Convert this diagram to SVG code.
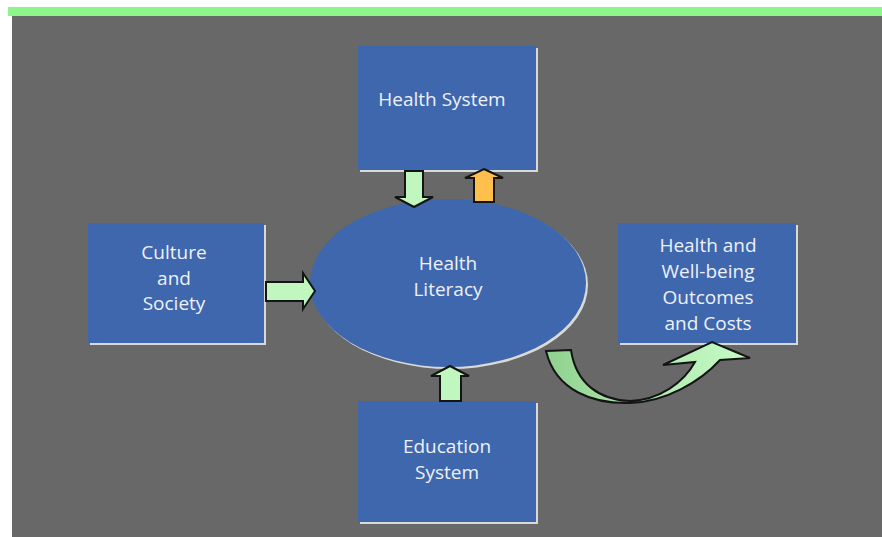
<svg xmlns="http://www.w3.org/2000/svg" width="882" height="537" viewBox="0 0 882 537">
  <style>
    .panel { fill: #686868; }
    .band { fill: #8ef58a; }
    .edge { fill: #d9d9d6; }
    .box { fill: #3e67ad; }
    .label { font-family: "Open Sans", "Noto Sans", "Liberation Sans", sans-serif; font-size: 19px; fill: #eef1f7; text-anchor: middle; }
    .arrow-green { fill: #bff7bf; stroke: #141414; stroke-width: 2; stroke-linejoin: miter; }
    .arrow-orange { fill: #ffbf4d; stroke: #141414; stroke-width: 2; stroke-linejoin: miter; }
  </style>
  <defs>
    <linearGradient id="curveFill" x1="546" y1="0" x2="750" y2="0" gradientUnits="userSpaceOnUse">
      <stop offset="0" stop-color="#8fd18f"/>
      <stop offset="0.55" stop-color="#b3edb3"/>
      <stop offset="1" stop-color="#c6fac6"/>
    </linearGradient>
  </defs>

  <!-- background -->
  <rect x="0" y="0" width="882" height="537" fill="#ffffff"/>
  <rect class="band" x="8" y="7" width="874" height="9"/>
  <rect class="panel" x="12" y="16" width="870" height="521"/>

  <!-- nodes -->
  <g id="health-system">
    <rect class="edge" x="360" y="48" width="178" height="124"/>
    <rect class="box" x="358" y="46" width="178" height="124"/>
    <text class="label" x="442" y="106">Health System</text>
  </g>

  <g id="culture-society">
    <rect class="edge" x="90" y="225" width="176" height="120"/>
    <rect class="box" x="88" y="223" width="176" height="120"/>
    <text class="label" x="174" y="259">Culture</text>
    <text class="label" x="174" y="285">and</text>
    <text class="label" x="174" y="310">Society</text>
  </g>

  <g id="health-literacy">
    <ellipse class="edge" cx="450" cy="285" rx="138" ry="84"/>
    <ellipse class="box" cx="448" cy="283" rx="138" ry="84"/>
    <text class="label" x="448" y="270">Health</text>
    <text class="label" x="448" y="296">Literacy</text>
  </g>

  <g id="outcomes-costs">
    <rect class="edge" x="620" y="225" width="178" height="120"/>
    <rect class="box" x="618" y="223" width="178" height="120"/>
    <text class="label" x="708" y="252">Health and</text>
    <text class="label" x="708" y="278">Well-being</text>
    <text class="label" x="708" y="304">Outcomes</text>
    <text class="label" x="708" y="330">and Costs</text>
  </g>

  <g id="education-system">
    <rect class="edge" x="360" y="403" width="178" height="121"/>
    <rect class="box" x="358" y="401" width="178" height="121"/>
    <text class="label" x="447" y="453">Education</text>
    <text class="label" x="447" y="479">System</text>
  </g>

  <!-- connectors -->
  <g id="connectors">
    <polygon class="arrow-green" points="405,171 423,171 423,197 433,197 414,207 395,197 405,197"/>
    <polygon class="arrow-orange" points="484,169 503,178 494,178 494,202 474,202 474,178 465,178"/>
    <polygon class="arrow-green" points="266,282 303,282 303,273 315,291 303,309 303,301 266,301"/>
    <polygon class="arrow-green" points="450,366 469,376 461,376 461,401 440,401 440,376 431,376"/>
    <path fill="url(#curveFill)" stroke="#141414" stroke-width="2" stroke-linejoin="miter"
          d="M546,351 C556,392 595,404 630,403 C665,402 700,382 720,360 L750,358 L712,342 L663,365 L695,362 C684,382 660,400 630,401 C600,400 576,384 571,350 Z"/>
  </g>
</svg>
